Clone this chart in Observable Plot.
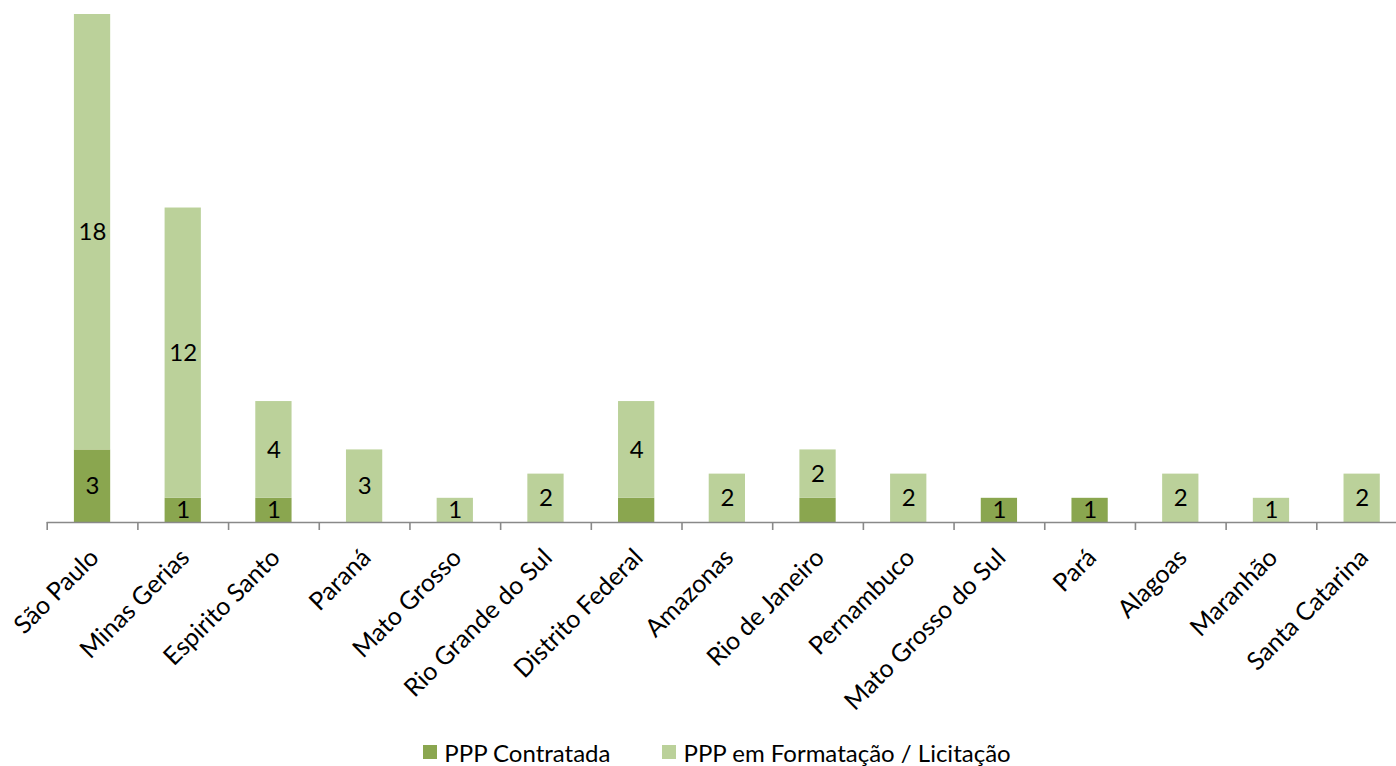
<!DOCTYPE html>
<html><head><meta charset="utf-8">
<script src="https://cdn.jsdelivr.net/npm/d3@7"></script>
<script src="https://cdn.jsdelivr.net/npm/@observablehq/plot@0.6"></script>
<style>
html,body{margin:0;padding:0;background:#fff;overflow:hidden;}
#legend{display:flex;justify-content:center;align-items:center;height:32px;padding-left:38px;font-family:Lato,"Open Sans",sans-serif;font-size:24px;color:#000;}
#legend .item{display:flex;align-items:center;margin:0 26px;}
#legend .sw{width:14px;height:14px;margin-right:7px;}
</style></head><body>
<div id="chart"></div>
<div id="legend"></div>
<script>
const states = ["São Paulo","Minas Gerias","Espirito Santo","Paraná","Mato Grosso","Rio Grande do Sul","Distrito Federal","Amazonas","Rio de Janeiro","Pernambuco","Mato Grosso do Sul","Pará","Alagoas","Maranhão","Santa Catarina"];
const contratada = [3,1,1,0,0,0,1,0,1,0,1,1,0,0,0];
const formatacao = [18,12,4,3,1,2,4,2,2,2,0,0,2,1,2];
const seriesNames = ["PPP Contratada","PPP em Formatação / Licitação"];
const seriesColors = ["#8aa64f","#bbd19a"];
// states whose "PPP Contratada" segment carries no data label in the original
const unlabeledContratada = ["Distrito Federal","Rio de Janeiro"];

const rows = [];
states.forEach((s, i) => {
  rows.push({state: s, series: seriesNames[0], value: contratada[i], showLabel: !unlabeledContratada.includes(s)});
  rows.push({state: s, series: seriesNames[1], value: formatacao[i], showLabel: true});
});
const data = rows.filter(d => d.value > 0);

const W = 1396, H = 736;
const baseY = 522, topY = 14;
const xStart = 46.7, xEnd = 1407;
const step = (xEnd - xStart) / states.length;
const font = "Lato, 'Open Sans', sans-serif";

const chart = Plot.plot({
  width: W, height: H,
  marginTop: topY, marginBottom: H - baseY, marginLeft: xStart, marginRight: 0,
  x: {domain: states, range: [xStart, xEnd], round: false, paddingInner: 0.6, paddingOuter: 0.3, label: null},
  y: {domain: [0, 21], axis: null},
  color: {domain: seriesNames, range: seriesColors},
  style: {fontFamily: font, fontSize: "24px", color: "#000", background: "#fff"},
  marks: [
    Plot.barY(data, Plot.stackY({x: "state", y: "value", fill: "series"})),
    Plot.text(data, Plot.stackY({x: "state", y: "value", z: "series", text: d => d.showLabel ? String(d.value) : "", fill: "#000", fontSize: 24})),
    Plot.ruleY([0], {stroke: "#898989", strokeWidth: 1.6}),
    Plot.ruleX(states, {x: d => d, y1: 0, y2: 0, insetBottom: -8, dx: -step / 2, stroke: "#898989", strokeWidth: 1.6}),
    Plot.axisX({tickSize: 0, tickRotate: -45, tickPadding: 31, dx: 2, fontSize: 25, fill: "#000"})
  ]
});
document.getElementById("chart").appendChild(chart);

const legend = document.getElementById("legend");
seriesNames.forEach((name, i) => {
  const item = document.createElement("div");
  item.className = "item";
  const sw = document.createElement("span");
  sw.className = "sw";
  sw.style.background = seriesColors[i];
  const t = document.createElement("span");
  t.textContent = name;
  item.appendChild(sw); item.appendChild(t);
  legend.appendChild(item);
});
</script>
</body></html>
